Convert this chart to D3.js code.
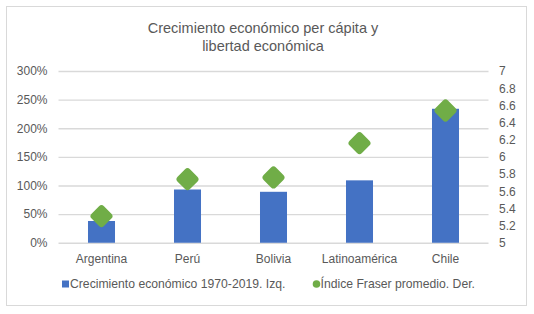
<!DOCTYPE html>
<html>
<head>
<meta charset="utf-8">
<script src="https://cdn.jsdelivr.net/npm/d3@7"></script>
<style>
  html, body { margin: 0; padding: 0; background: #ffffff; }
  svg { display: block; font-family: "Liberation Sans", Arial, sans-serif; }
</style>
</head>
<body>
<div id="chart"></div>
<script>
// data
const categories = ["Argentina", "Perú", "Bolivia", "Latinoamérica", "Chile"];
const growthPct  = [38, 93, 89, 109, 234];          // left axis, %
const fraserIdx  = [5.31, 5.74, 5.76, 6.16, 6.54];  // right axis
const leftTicks  = [0, 50, 100, 150, 200, 250, 300];
const rightTicks = [5, 5.2, 5.4, 5.6, 5.8, 6, 6.2, 6.4, 6.6, 6.8, 7];
const titleLines = ["Crecimiento económico per cápita y", "libertad económica"];
const legendLabels = ["Crecimiento económico 1970-2019. Izq.", "Índice Fraser promedio. Der."];

const width = 534, height = 314;
const textColor = "#595959";
const gridColor = "#d9d9d9";
const blue = "#4472c4";
const green = "#70ad47";

const plot = { left: 58.5, right: 488.5, top: 71, bottom: 242.75 };

const svg = d3.select("#chart")
  .append("svg")
  .attr("width", width)
  .attr("height", height);

// ----------------------------------------------------------
// chart frame
// ----------------------------------------------------------
svg.append("rect")
  .attr("x", 6.5)
  .attr("y", 6.5)
  .attr("width", 520)
  .attr("height", 299)
  .attr("fill", "#ffffff")
  .attr("stroke", gridColor)
  .attr("stroke-width", 1);

// title
svg.append("g")
  .selectAll("text")
  .data(titleLines)
  .enter()
  .append("text")
  .attr("x", 263)
  .attr("y", (d, i) => 33 + i * 18)
  .attr("text-anchor", "middle")
  .attr("fill", textColor)
  .attr("font-size", 14.5)
  .text(d => d);

// ----------------------------------------------------------
// scales
// ----------------------------------------------------------
const x = d3.scaleBand()
  .domain(categories)
  .range([plot.left, plot.right])
  .padding(0);

const yLeft = d3.scaleLinear()
  .domain([0, 300])
  .range([plot.bottom, plot.top]);

const yRight = d3.scaleLinear()
  .domain([5, 7])
  .range([plot.bottom, plot.top]);

// ----------------------------------------------------------
// grid + axes
// ----------------------------------------------------------
const grid = svg.append("g")
  .attr("transform", `translate(${plot.left},0)`)
  .call(d3.axisLeft(yLeft)
    .tickValues(leftTicks)
    .tickSize(-(plot.right - plot.left))
    .tickFormat(""));
grid.select(".domain").remove();
grid.selectAll("line").attr("stroke", gridColor).attr("stroke-width", 1.3);

const leftAxis = svg.append("g")
  .attr("transform", `translate(${plot.left - 11},0)`)
  .call(d3.axisLeft(yLeft)
    .tickValues(leftTicks)
    .tickSize(0)
    .tickPadding(0)
    .tickFormat(d => d + "%"));
leftAxis.select(".domain").remove();
leftAxis.selectAll("text")
  .attr("fill", textColor)
  .attr("font-size", 12)
  .attr("font-family", "Liberation Sans, Arial, sans-serif");

const rightAxis = svg.append("g")
  .attr("transform", `translate(${plot.right + 10.5},0)`)
  .call(d3.axisRight(yRight)
    .tickValues(rightTicks)
    .tickSize(0)
    .tickPadding(0)
    .tickFormat(d3.format("~g")));
rightAxis.select(".domain").remove();
rightAxis.selectAll("text")
  .attr("fill", textColor)
  .attr("font-size", 12)
  .attr("font-family", "Liberation Sans, Arial, sans-serif");

const bottomAxis = svg.append("g")
  .attr("transform", `translate(0,${plot.bottom})`)
  .call(d3.axisBottom(x).tickSize(0).tickPadding(11.5));
bottomAxis.select(".domain").remove();
bottomAxis.selectAll("text")
  .attr("fill", textColor)
  .attr("font-size", 12)
  .attr("font-family", "Liberation Sans, Arial, sans-serif");

// ----------------------------------------------------------
// bars (left axis)
// ----------------------------------------------------------
const barW = x.bandwidth() * 0.314;

svg.append("g")
  .selectAll("rect")
  .data(categories)
  .enter()
  .append("rect")
  .attr("x", d => x(d) + (x.bandwidth() - barW) / 2)
  .attr("y", (d, i) => yLeft(growthPct[i]))
  .attr("width", barW)
  .attr("height", (d, i) => yLeft(0) - yLeft(growthPct[i]))
  .attr("fill", blue);

// ----------------------------------------------------------
// diamonds (right axis)
// ----------------------------------------------------------
const side = 17.5;

svg.append("g")
  .selectAll("rect")
  .data(categories)
  .enter()
  .append("rect")
  .attr("transform", (d, i) =>
    `translate(${x(d) + x.bandwidth() / 2},${yRight(fraserIdx[i])}) rotate(45)`)
  .attr("x", -side / 2)
  .attr("y", -side / 2)
  .attr("width", side)
  .attr("height", side)
  .attr("rx", 3.5)
  .attr("fill", green);

// ----------------------------------------------------------
// legend
// ----------------------------------------------------------
const legend = svg.append("g").attr("transform", "translate(0,284)");

legend.append("rect")
  .attr("x", 62)
  .attr("y", -3.5)
  .attr("width", 7)
  .attr("height", 7)
  .attr("fill", blue);

legend.append("text")
  .attr("x", 70)
  .attr("y", 4.3)
  .attr("fill", textColor)
  .attr("font-size", 12.2)
  .text(legendLabels[0]);

legend.append("circle")
  .attr("cx", 316.5)
  .attr("cy", 0)
  .attr("r", 3.8)
  .attr("fill", green);

legend.append("text")
  .attr("x", 320.5)
  .attr("y", 4.3)
  .attr("fill", textColor)
  .attr("font-size", 12.2)
  .text(legendLabels[1]);
</script>
</body>
</html>
